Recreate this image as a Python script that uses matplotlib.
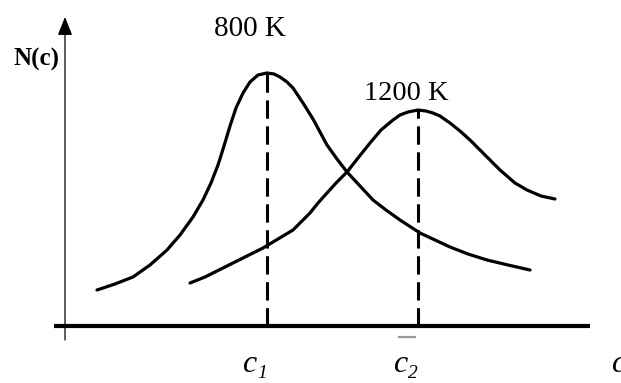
import numpy as np
import matplotlib
matplotlib.use("Agg")
import matplotlib.pyplot as plt

# 곡선 데이터 (c 위치, N(c) 높이) - 그림에서 읽은 값
c_800 = [97, 115, 133, 150, 167, 180, 193, 203, 211, 218, 224, 230, 236, 243, 250, 258, 267,
         274, 280, 287, 293, 303, 313, 320, 327, 337, 347, 360, 373, 386, 400, 420, 435, 450,
         468, 487, 508, 530]
n_800 = [36, 42, 49, 61, 76, 91, 109, 126, 143, 161, 180, 200, 218, 233, 244, 251, 253,
         252, 249, 244, 238, 223, 207, 194, 181, 167, 154, 140, 126, 116, 106, 93, 86, 79,
         72, 66, 61, 56]

c_1200 = [190, 205, 223, 243, 263, 278, 293, 302, 310, 318, 327, 337, 347, 358, 370, 381,
          393, 400, 408, 418, 426, 433, 440, 450, 460, 470, 480, 490, 500, 515, 527, 541, 555]
n_1200 = [43, 49, 58, 68, 78, 87, 96, 105, 113, 123, 133, 144, 154, 168, 183, 196,
          206, 211, 214, 216, 215, 213, 210, 203, 195, 186, 176, 166, 156, 143, 136, 130, 127]

peaks_c = [267, 418]
peaks_n = [253, 216]
temp_labels = ["800 K", "1200 K"]
sub_labels = ["1", "2"]

plt.rcParams["font.family"] = ["Liberation Serif", "DejaVu Serif"]

fig = plt.figure(figsize=(6.21, 3.83), dpi=100)
ax = fig.add_axes([0, 0, 1, 1])
ax.set_xlim(0, 621)
ax.set_ylim(-57, 326)
ax.axis("off")

# 두 분포 곡선
ax.plot(c_800, n_800, color="black", lw=2.3, solid_capstyle="round", solid_joinstyle="round")
ax.plot(c_1200, n_1200, color="black", lw=2.3, solid_capstyle="round", solid_joinstyle="round")

# 피크 위치 점선
for pc, pn in zip(peaks_c, peaks_n):
    ax.plot([pc, pc], [0, pn], color="black", lw=2.2, linestyle=(0, (6, 2.5)))

# 축
ax.plot([54, 590], [0, 0], color="black", lw=3.0, solid_capstyle="butt")
ax.annotate("", xy=(65, 309), xytext=(65, -14),
            arrowprops=dict(arrowstyle="-|>,head_length=0.75,head_width=0.3",
                            mutation_scale=15, lw=0.9, color="black",
                            shrinkA=0, shrinkB=0))
ax.plot([399, 415], [-11, -11], color="#999999", lw=1.6)

# 라벨
ax.text(250, 297, temp_labels[0], fontsize=21, ha="center", va="center")
ax.text(406, 233, temp_labels[1], fontsize=20.5, ha="center", va="center")
ax.text(36, 267, "N(c)", fontsize=18, fontweight="bold", ha="center", va="center")

for pc, sub in zip(peaks_c, sub_labels):
    ax.text(pc - 25, -46, "c", fontsize=23, style="italic", ha="left", va="baseline")
    ax.text(pc - 10, -52, sub, fontsize=14, style="italic", ha="left", va="baseline")
ax.text(611, -46, "c", fontsize=23, style="italic", ha="left", va="baseline")

fig.savefig("out.png", dpi=100)
